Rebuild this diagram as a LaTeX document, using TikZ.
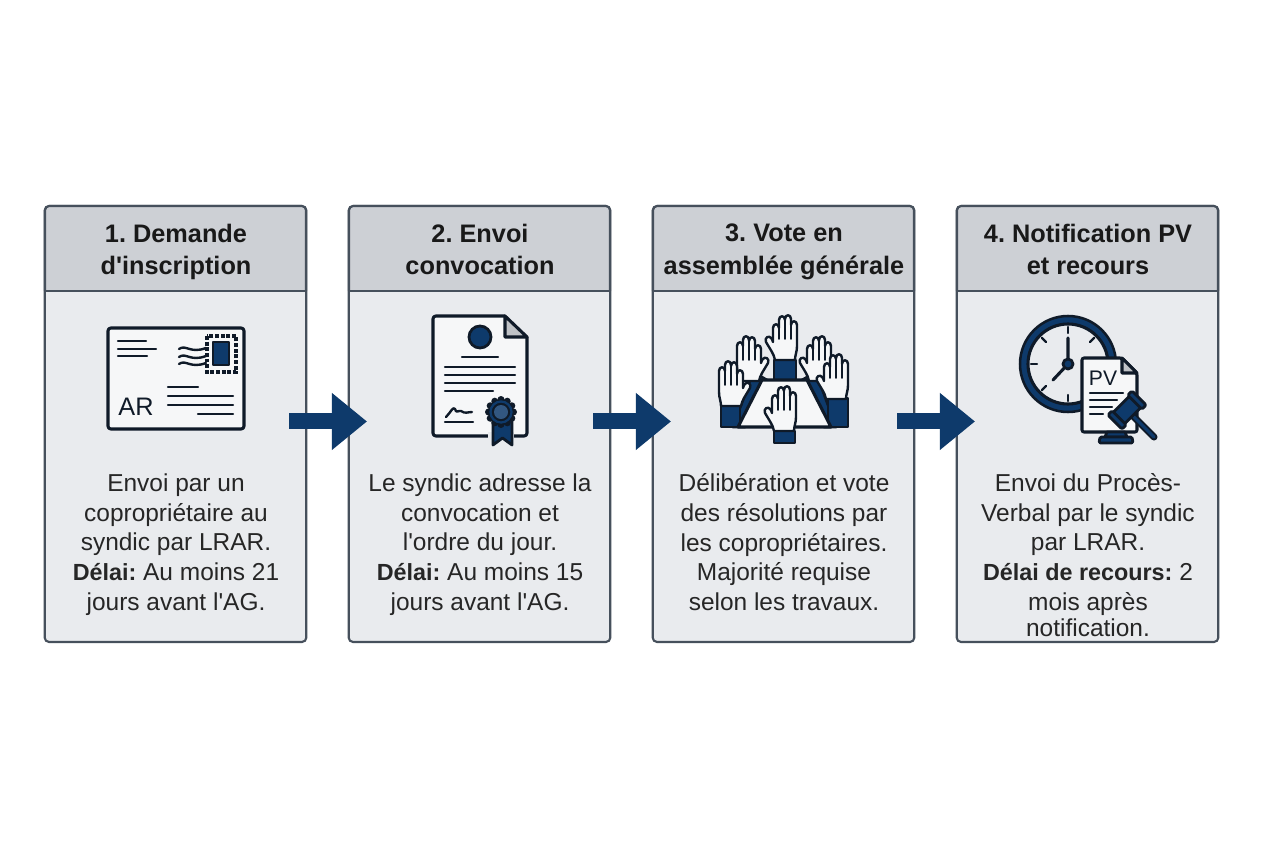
\documentclass[tikz,border=0pt]{standalone}
\usepackage{fontspec}
\setmainfont{Liberation Sans}
\newfontfamily\plainfont{Liberation Sans}
\usetikzlibrary{arrows.meta}
\definecolor{ink}{HTML}{0F1A28}
\definecolor{navy}{HTML}{0E3A6B}
\definecolor{panelgray}{HTML}{E9EBEE}
\definecolor{headgray}{HTML}{CDD0D5}
\definecolor{edgegray}{HTML}{46505C}
\definecolor{foldgray}{HTML}{BFC2C6}
\newcommand{\ap}{{\plainfont\symbol{39}}}
\newcommand{\boldword}[1]{{\fontsize{16.6}{21.1}\selectfont\bfseries #1}}
\tikzset{
    panelbox/.style={draw=edgegray, fill=panelgray, line width=1.5pt, rounded corners=3pt,
        minimum width=186pt, minimum height=310pt, outer sep=0pt},
    headbox/.style={draw=edgegray, fill=headgray, line width=1.5pt, rounded corners=3pt},
    headtext/.style={font=\fontsize{18}{23}\selectfont\bfseries\frenchspacing, align=center, text=black!90,
        execute at begin node=\strut, execute at end node=\strut},
    bodytext/.style={font=\fontsize{17.4}{21.1}\selectfont\frenchspacing, align=center, text=black!85,
        execute at begin node=\strut, execute at end node=\strut},
    steparrow/.style={draw=navy, line width=11.4pt, shorten <=-12pt, shorten >=-13pt,
        -{Triangle[length=25pt, width=39pt]}},
    icon/.style={draw=ink, line width=2.2pt, line cap=round, line join=round},
    thin icon/.style={draw=ink, line width=1.7pt, line cap=round, line join=round},
    finger/.style={draw=ink, line width=1.3pt, line cap=round},
    sleeve/.style={draw=ink, fill=navy, line width=2pt, line join=round},
    hand/.pic={
        \draw [thin icon, fill=panelgray!40!white]
            (-10,0) .. controls (-11,-6) and (-15,-11) .. (-19,-18)
            .. controls (-21,-22) and (-16,-26) .. (-13,-21) -- (-12,-18)
            -- (-12,-32) .. controls (-12,-37) and (-6,-37) .. (-6,-32)
            -- (-6,-40) .. controls (-6,-45) and (0,-45) .. (0,-40)
            -- (0,-41) .. controls (0,-46) and (6,-46) .. (6,-41)
            -- (6,-35) .. controls (6,-40) and (12,-40) .. (12,-35)
            -- (12,-14) .. controls (12,-8) and (10,-5) .. (10,0) -- cycle;
        \draw [finger] (-6,-32) -- (-6,-21) (0,-40) -- (0,-21) (6,-35) -- (6,-21);
    }
}
\begin{document}
\begin{tikzpicture}[x=0.025cm, y=-0.025cm]
    \useasboundingbox (0,0) rectangle (1264,848);
    \fill [white] (0,0) rectangle (1264,848);

    % panels
    \node [panelbox] (panelA) at (175.5,424) {};
    \node [panelbox] (panelB) at (479.5,424) {};
    \node [panelbox] (panelC) at (783.5,424) {};
    \node [panelbox] (panelD) at (1087.5,424) {};

    % headers
    \foreach \x in {45, 349, 653, 957} {
        \draw [headbox] (\x,291) -- (\x,206) -- (\x+261,206) -- (\x+261,291);
        \draw [edgegray, line width=1.5pt] (\x,291) -- (\x+261,291);
    }
    \node [headtext] (headA) at (176,254) {1. Demande\\d\ap inscription};
    \node [headtext] (headB) at (480,254) {2. Envoi\\convocation};
    \node [headtext] (headC) at (784,254) {3. Vote en\\assemblée générale};
    \node [headtext] (headD) at (1088,254) {4. Notification PV\\et recours};

    % texts
    \node [bodytext] (bodyA) at (176,546.5) {Envoi par un\\copropriétaire au\\syndic par LRAR.\\\boldword{Délai:} Au moins 21\\jours avant l\ap AG.};
    \node [bodytext] (bodyB) at (480,546.5) {Le syndic adresse la\\convocation et\\l\ap ordre du jour.\\\boldword{Délai:} Au moins 15\\jours avant l\ap AG.};
    \node [bodytext] (bodyC) at (784,546.5) {Délibération et vote\\des résolutions par\\les copropriétaires.\\Majorité requise\\selon les travaux.};
    \node [bodytext] (bodyD) at (1088,559.5) {Envoi du Procès-\\Verbal par le syndic\\par LRAR.\\\boldword{Délai de recours:} 2\\mois après\\[-2.5pt]notification.};

    % arrows
    \draw [steparrow] ([yshift=1.8pt]panelA.east) -- ([yshift=1.8pt]panelB.west);
    \draw [steparrow] ([yshift=1.8pt]panelB.east) -- ([yshift=1.8pt]panelC.west);
    \draw [steparrow] ([yshift=1.8pt]panelC.east) -- ([yshift=1.8pt]panelD.west);

    %% icon 1
    \draw [icon, fill=panelgray!40!white, rounded corners=2pt] (108,328) rectangle (244,429);
    \draw [thin icon]
        (118,341) -- (146,341) (118,349) -- (156,349) (118,356) -- (147,356)
        (168,387) -- (198,387) (168,396) -- (233,396) (168,405) -- (233,405) (198,414) -- (233,414);
    \foreach \y in {349, 357, 364} {
        \draw [thin icon] (179,\y) .. controls (186,\y-5) and (190,\y+5) .. (206,\y-1);
    }
    \draw [fill=panelgray!40!white, draw=ink, line width=2.4pt, dash pattern=on 2.8pt off 1.2pt] (207,336) rectangle (236,372);
    \draw [sleeve, line width=1.5pt] (213,342) rectangle (229,365);
    \node [font=\fontsize{18}{20}\selectfont, text=ink, inner sep=0pt] (labelAR) at (136,407) {AR};

    %% icon 2
    \draw [icon, fill=panelgray!40!white, rounded corners=2pt]
        (505,316) -- (433,316) -- (433,436) -- (527,436) -- (527,337);
    \draw [icon, fill=foldgray] (505,316) -- (527,337) -- (505,337) -- cycle;
    \draw [sleeve] (480,337) circle (11);
    \draw [thin icon]
        (462,357) -- (498,357)
        (445,367) -- (515,367) (445,375) -- (515,375) (445,383) -- (515,383) (445,391) -- (493,391)
        (445,422) -- (473,422);
    \draw [thin icon] (446,417) .. controls (451,412) and (453,406) .. (455,409)
        .. controls (456,414) and (459,410) .. (461,411) .. controls (465,414) and (468,412) .. (472,412);
    \fill [panelgray] (488,432) rectangle (514,440);
    \draw [sleeve] (493,420) -- (493,445) -- (502.5,438) -- (512,445) -- (512,420) -- cycle;
    \foreach \a in {0, 30, ..., 330} {
        \fill [ink] ([shift={(\a:12.5)}]501,412) circle (3.5);
    }
    \fill [ink] (501,412) circle (13);
    \draw [draw=navy, fill=ink, line width=1.6pt] (501,412) circle (10.5);
    \fill [navy!85!white] (501,412) circle (7);

    %% icon 3
    \draw [sleeve] (774,360) rectangle (796,381);
    \draw [sleeve] (753,372) -- (772,383) -- (745,427) -- (733,427) -- cycle;
    \draw [sleeve] (816,372) -- (797,383) -- (824,427) -- (836,427) -- cycle;
    \pic [xscale=-1] at (749,381) {hand};
    \pic at (819,381) {hand};
    \draw [sleeve] (721,405) rectangle (740,427);
    \draw [sleeve] (828,398) rectangle (848,427);
    \pic [xscale=-1] at (731,406) {hand};
    \pic at (836,399) {hand};
    \pic at (785,360) {hand};
    \draw [icon, fill=panelgray!40!white] (762,380) -- (807,380) -- (831,427) -- (738,427) -- cycle;
    \draw [sleeve] (774,431) rectangle (795,443);
    \pic at (784,431) {hand};

    %% icon 4
    \draw [draw=ink, fill=navy, line width=1.8pt] (1068,364) circle (48);
    \draw [icon, fill=panelgray] (1068,364) circle (40);
    \foreach \a in {0, 45, ..., 315} {
        \draw [thin icon] ([shift={(\a:37)}]1068,364) -- ([shift={(\a:31)}]1068,364);
    }
    \draw [icon] (1068,364) -- (1068,338) (1068,364) -- (1053,380);
    \draw [sleeve] (1068,364) circle (5);
    \draw [icon, fill=panelgray!40!white, rounded corners=1.5pt]
        (1122,358) -- (1082,358) -- (1082,432) -- (1137,432) -- (1137,373) -- cycle;
    \draw [icon, fill=foldgray] (1122,358) -- (1137,373) -- (1122,373) -- cycle;
    \node [font=\fontsize{15}{18}\selectfont, text=ink, inner sep=0pt] (labelPV) at (1103,378) {PV};
    \draw [thin icon]
        (1090,393) -- (1123,393) (1090,400) -- (1117,400) (1090,407) -- (1112,407) (1090,414) -- (1103,414);
    \draw [draw=ink, line width=5pt, line cap=round] (1127,410) -- (1154,437);
    \draw [draw=navy, line width=2.2pt, line cap=round] (1127,410) -- (1154,437);
    \begin{scope}[shift={(1127,410)}, rotate=-45]
        \draw [sleeve, rounded corners=1pt] (-8,-13) rectangle (8,13);
        \draw [sleeve, rounded corners=1pt] (-10,-17) rectangle (10,-11);
        \draw [sleeve, rounded corners=1pt] (-10,11) rectangle (10,17);
    \end{scope}
    \draw [sleeve] (1105,437) -- (1107,432) -- (1125,432) -- (1127,437) -- cycle;
    \draw [sleeve, rounded corners=1pt] (1099,443) -- (1100,437) -- (1132,437) -- (1133,443) -- cycle;
\end{tikzpicture}
\end{document}
